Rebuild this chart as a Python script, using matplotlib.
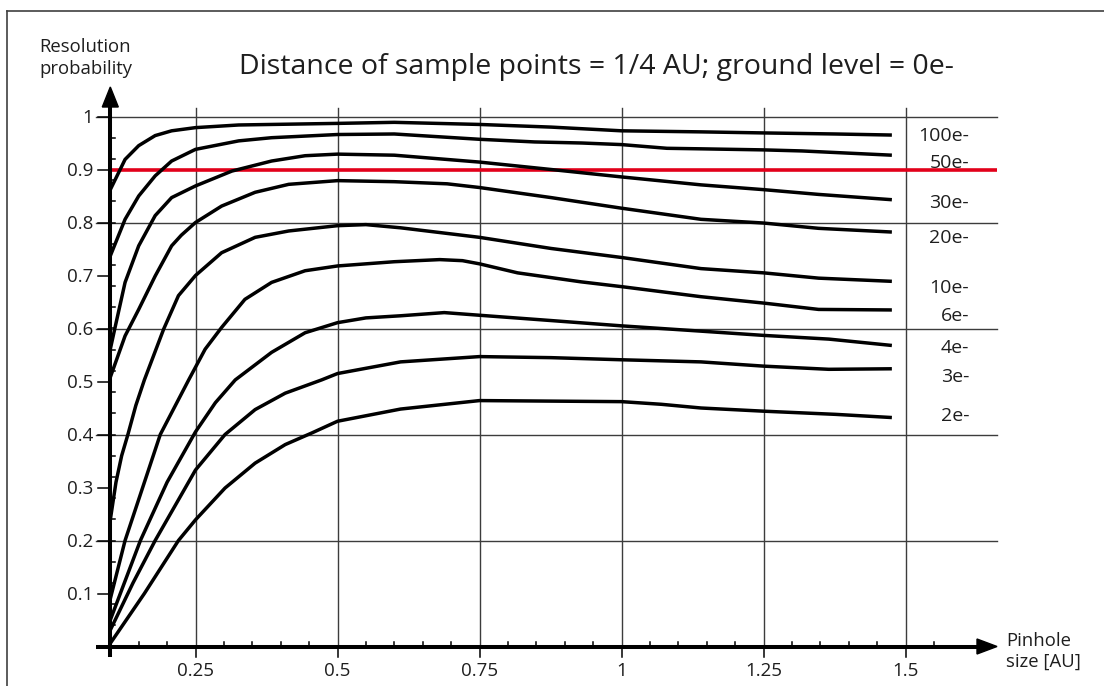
import matplotlib
matplotlib.use("Agg")
import matplotlib.pyplot as plt
from matplotlib.lines import Line2D
from matplotlib.patches import Polygon
import numpy as np

plt.rcParams["font.family"] = ["Open Sans", "DejaVu Sans"]

# ---------------------------------------------------------------- data
series_labels = ["100e-", "50e-", "30e-", "20e-", "10e-", "6e-", "4e-", "3e-", "2e-"]

pinhole_100e = [0.1, 0.126, 0.15, 0.179, 0.208, 0.25, 0.326, 0.5, 0.6, 0.75, 0.876, 1.0, 1.14, 1.25, 1.377, 1.476]
prob_100e = [0.862, 0.919, 0.945, 0.964, 0.973, 0.979, 0.984, 0.987, 0.989, 0.985, 0.980, 0.973, 0.971, 0.969, 0.967, 0.965]

pinhole_50e = [0.1, 0.126, 0.15, 0.179, 0.208, 0.25, 0.326, 0.384, 0.5, 0.6, 0.75, 0.847, 0.93, 1.0, 1.08, 1.14, 1.25, 1.318, 1.476]
prob_50e = [0.737, 0.806, 0.850, 0.888, 0.916, 0.938, 0.954, 0.960, 0.966, 0.967, 0.957, 0.952, 0.950, 0.947, 0.940, 0.939, 0.937, 0.935, 0.927]

pinhole_30e = [0.1, 0.109, 0.126, 0.15, 0.179, 0.208, 0.25, 0.314, 0.384, 0.443, 0.5, 0.6, 0.75, 0.876, 1.0, 1.14, 1.25, 1.347, 1.476]
prob_30e = [0.561, 0.605, 0.687, 0.756, 0.813, 0.847, 0.869, 0.897, 0.916, 0.926, 0.929, 0.927, 0.914, 0.900, 0.886, 0.871, 0.862, 0.853, 0.843]

pinhole_20e = [0.1, 0.126, 0.15, 0.179, 0.208, 0.225, 0.25, 0.296, 0.355, 0.414, 0.5, 0.6, 0.693, 0.75, 0.876, 1.0, 1.14, 1.25, 1.347, 1.476]
prob_20e = [0.508, 0.586, 0.636, 0.699, 0.756, 0.776, 0.800, 0.831, 0.857, 0.872, 0.879, 0.877, 0.873, 0.866, 0.847, 0.827, 0.806, 0.799, 0.789, 0.782]

pinhole_10e = [0.1, 0.11, 0.12, 0.131, 0.145, 0.16, 0.194, 0.22, 0.25, 0.296, 0.355, 0.414, 0.5, 0.55, 0.611, 0.75, 0.876, 1.0, 1.14, 1.25, 1.347, 1.476]
prob_10e = [0.239, 0.31, 0.36, 0.40, 0.455, 0.503, 0.599, 0.662, 0.700, 0.743, 0.772, 0.784, 0.794, 0.796, 0.790, 0.772, 0.751, 0.734, 0.713, 0.705, 0.695, 0.689]

pinhole_6e = [0.1, 0.126, 0.188, 0.238, 0.267, 0.296, 0.337, 0.384, 0.443, 0.5, 0.6, 0.68, 0.72, 0.75, 0.817, 0.929, 1.0, 1.14, 1.25, 1.347, 1.476]
prob_6e = [0.09, 0.200, 0.400, 0.503, 0.561, 0.602, 0.655, 0.687, 0.709, 0.718, 0.726, 0.730, 0.728, 0.722, 0.705, 0.688, 0.679, 0.660, 0.648, 0.636, 0.635]

pinhole_4e = [0.1, 0.153, 0.2, 0.25, 0.285, 0.32, 0.384, 0.443, 0.5, 0.55, 0.611, 0.688, 0.75, 0.876, 1.0, 1.14, 1.25, 1.365, 1.476]
prob_4e = [0.05, 0.200, 0.310, 0.405, 0.460, 0.503, 0.555, 0.592, 0.611, 0.620, 0.624, 0.630, 0.625, 0.615, 0.605, 0.595, 0.587, 0.580, 0.568]

pinhole_3e = [0.1, 0.14, 0.179, 0.25, 0.302, 0.355, 0.408, 0.472, 0.5, 0.611, 0.75, 0.876, 1.0, 1.14, 1.25, 1.365, 1.476]
prob_3e = [0.031, 0.12, 0.200, 0.333, 0.400, 0.447, 0.478, 0.503, 0.515, 0.537, 0.547, 0.545, 0.541, 0.537, 0.529, 0.523, 0.524]

pinhole_2e = [0.1, 0.16, 0.22, 0.25, 0.302, 0.355, 0.408, 0.455, 0.5, 0.611, 0.75, 0.876, 1.0, 1.07, 1.14, 1.25, 1.377, 1.476]
prob_2e = [0.006, 0.10, 0.200, 0.239, 0.299, 0.346, 0.381, 0.403, 0.425, 0.448, 0.464, 0.463, 0.462, 0.457, 0.450, 0.444, 0.438, 0.432]

threshold = 0.9
y_tick_values = [0.1, 0.2, 0.3, 0.4, 0.5, 0.6, 0.7, 0.8, 0.9, 1.0]
y_tick_labels = ["0.1", "0.2", "0.3", "0.4", "0.5", "0.6", "0.7", "0.8", "0.9", "1"]
x_tick_values = [0.25, 0.5, 0.75, 1.0, 1.25, 1.5]
x_tick_labels = ["0.25", "0.5", "0.75", "1", "1.25", "1.5"]
y_grid_values = [0.2, 0.4, 0.6, 0.8, 1.0]

curves = [
    (pinhole_100e, prob_100e), (pinhole_50e, prob_50e), (pinhole_30e, prob_30e),
    (pinhole_20e, prob_20e), (pinhole_10e, prob_10e), (pinhole_6e, prob_6e),
    (pinhole_4e, prob_4e), (pinhole_3e, prob_3e), (pinhole_2e, prob_2e),
]

# ---------------------------------------------------------------- layout
W, H, DPI = 1104, 686, 100
X0_PX, X_SCALE = 53.5, 568.0      # pixel column of x = 0, pixels per AU
Y0_PX, Y_SCALE = 646.5, 530.0     # pixel row of y = 0, pixels per unit probability
XLIM = (0.0, 1.75)
YLIM = (-0.05, 1.15)
X_ORIGIN = 0.1                    # the vertical axis sits at pinhole size 0.1 AU

label_y = [0.963, 0.913, 0.836, 0.770, 0.677, 0.623, 0.564, 0.508, 0.435]


def dx(px):
    return px / X_SCALE


def dy(px):
    return px / Y_SCALE


fig = plt.figure(figsize=(W / DPI, H / DPI), dpi=DPI)
left = (X0_PX + XLIM[0] * X_SCALE) / W
width = (XLIM[1] - XLIM[0]) * X_SCALE / W
bottom = (H - (Y0_PX - YLIM[0] * Y_SCALE)) / H
height = (YLIM[1] - YLIM[0]) * Y_SCALE / H
ax = fig.add_axes([left, bottom, width, height])
ax.set_xlim(*XLIM)
ax.set_ylim(*YLIM)
ax.axis("off")

grid_kw = dict(color="#3c3c3c", lw=1.0, zorder=1, clip_on=False)
x_right = X_ORIGIN + dx(997 - (X0_PX + X_ORIGIN * X_SCALE))
x_left_ext = X_ORIGIN - dx(14)
for gx in x_tick_values:
    ax.plot([gx, gx], [0, 1.0 + dy(9)], **grid_kw)
for gy in y_grid_values:
    ax.plot([x_left_ext, x_right], [gy, gy], **grid_kw)

# threshold line
ax.plot([X_ORIGIN, x_right], [threshold, threshold], color="#e2001a", lw=2.6,
        solid_capstyle="butt", zorder=3, clip_on=False)

# curves
for (xs, ys) in curves:
    ax.plot(xs, ys, color="black", lw=2.5, solid_joinstyle="round",
            solid_capstyle="butt", zorder=4, clip_on=False)

txt_color = "#1e1e1e"
for lab, ly in zip(series_labels, label_y):
    ax.text(X_ORIGIN + dx(969 - 110.3), ly, lab, ha="right", va="center",
            fontsize=14, color=txt_color)

# axes with arrow heads
axis_kw = dict(color="black", lw=2.9, solid_capstyle="butt", zorder=5, clip_on=False)
x_tip = x_right
y_tip = dy(Y0_PX - 87)
ax.plot([x_left_ext, x_tip - dx(15)], [0, 0], **axis_kw)
ax.plot([X_ORIGIN, X_ORIGIN], [-dy(10), y_tip - dy(15)], **axis_kw)
ax.add_patch(Polygon([[x_tip, 0], [x_tip - dx(20), dy(7.5)], [x_tip - dx(20), -dy(7.5)]],
                     closed=True, color="black", zorder=6, clip_on=False))
ax.add_patch(Polygon([[X_ORIGIN, y_tip], [X_ORIGIN - dx(8), y_tip - dy(20)],
                      [X_ORIGIN + dx(8), y_tip - dy(20)]],
                     closed=True, color="black", zorder=6, clip_on=False))

tick_kw = dict(color="black", lw=1.1, zorder=5, clip_on=False)
for v, lab in zip(y_tick_values, y_tick_labels):
    ax.plot([X_ORIGIN - dx(12), X_ORIGIN], [v, v], **tick_kw)
    ax.text(X_ORIGIN - dx(17), v - dy(6.5), lab, ha="right", va="baseline",
            fontsize=13.5, color=txt_color)
for v in np.arange(0.04, 0.97, 0.04):
    ax.plot([X_ORIGIN, X_ORIGIN + dx(5)], [v, v], **tick_kw)
for v, lab in zip(x_tick_values, x_tick_labels):
    ax.plot([v, v], [0, -dy(10)], **tick_kw)
    ax.text(v, -dy(29), lab, ha="center", va="baseline", fontsize=13.5, color=txt_color)
for v in np.arange(0.15, 1.56, 0.05):
    if abs(v / 0.25 - round(v / 0.25)) > 1e-6:
        ax.plot([v, v], [0, dy(5)], **tick_kw)


# titles and axis captions (figure pixel coordinates)
def fxy(px, py):
    return px / W, 1 - py / H


fig.text(*fxy(596.5, 74), "Distance of sample points = 1/4 AU; ground level = 0e-",
         ha="center", va="baseline", fontsize=20.5, color=txt_color)
fig.text(*fxy(39.5, 52), "Resolution", ha="left", va="baseline", fontsize=13.3, color=txt_color)
fig.text(*fxy(39.5, 74), "probability", ha="left", va="baseline", fontsize=13.3, color=txt_color)
fig.text(*fxy(1006, 646), "Pinhole", ha="left", va="baseline", fontsize=13.3, color=txt_color)
fig.text(*fxy(1006, 667), "size [AU]", ha="left", va="baseline", fontsize=13.3, color=txt_color)

# outer frame (left and top edges)
frame_kw = dict(transform=fig.transFigure, color="#404040", lw=1.2)
fig.add_artist(Line2D([7 / W, 7 / W], [0, 1 - 11 / H], **frame_kw))
fig.add_artist(Line2D([7 / W, 1], [1 - 11 / H, 1 - 11 / H], **frame_kw))

fig.savefig("out.png", dpi=DPI)
